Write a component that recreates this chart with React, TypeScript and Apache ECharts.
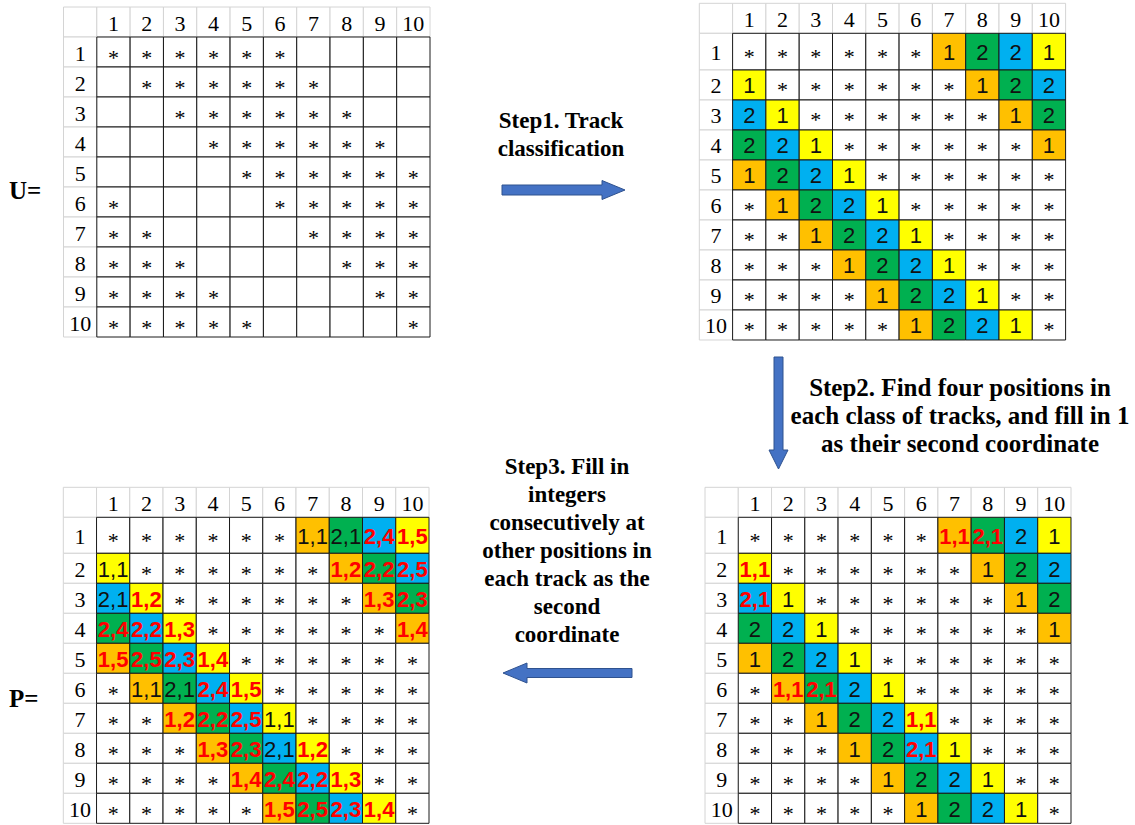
import React, { useEffect, useRef } from 'react';
import * as echarts from 'echarts';

// ---------- data ----------
const colLabels = ['1', '2', '3', '4', '5', '6', '7', '8', '9', '10'];
const rowLabels = ['1', '2', '3', '4', '5', '6', '7', '8', '9', '10'];

// U: '*' = known entry, '' = empty
const matrixU: string[][] = [
  ['*', '*', '*', '*', '*', '*', '', '', '', ''],
  ['', '*', '*', '*', '*', '*', '*', '', '', ''],
  ['', '', '*', '*', '*', '*', '*', '*', '', ''],
  ['', '', '', '*', '*', '*', '*', '*', '*', ''],
  ['', '', '', '', '*', '*', '*', '*', '*', '*'],
  ['*', '', '', '', '', '*', '*', '*', '*', '*'],
  ['*', '*', '', '', '', '', '*', '*', '*', '*'],
  ['*', '*', '*', '', '', '', '', '*', '*', '*'],
  ['*', '*', '*', '*', '', '', '', '', '*', '*'],
  ['*', '*', '*', '*', '*', '', '', '', '', '*'],
];

// track classes: O orange, G green, B blue, Y yellow, '' none
const trackClass: string[][] = [
  ['', '', '', '', '', '', 'O', 'G', 'B', 'Y'],
  ['Y', '', '', '', '', '', '', 'O', 'G', 'B'],
  ['B', 'Y', '', '', '', '', '', '', 'O', 'G'],
  ['G', 'B', 'Y', '', '', '', '', '', '', 'O'],
  ['O', 'G', 'B', 'Y', '', '', '', '', '', ''],
  ['', 'O', 'G', 'B', 'Y', '', '', '', '', ''],
  ['', '', 'O', 'G', 'B', 'Y', '', '', '', ''],
  ['', '', '', 'O', 'G', 'B', 'Y', '', '', ''],
  ['', '', '', '', 'O', 'G', 'B', 'Y', '', ''],
  ['', '', '', '', '', 'O', 'G', 'B', 'Y', ''],
];

// '!' prefix = red bold entry
const matrixTracks: string[][] = [
  ['*', '*', '*', '*', '*', '*', '1', '2', '2', '1'],
  ['1', '*', '*', '*', '*', '*', '*', '1', '2', '2'],
  ['2', '1', '*', '*', '*', '*', '*', '*', '1', '2'],
  ['2', '2', '1', '*', '*', '*', '*', '*', '*', '1'],
  ['1', '2', '2', '1', '*', '*', '*', '*', '*', '*'],
  ['*', '1', '2', '2', '1', '*', '*', '*', '*', '*'],
  ['*', '*', '1', '2', '2', '1', '*', '*', '*', '*'],
  ['*', '*', '*', '1', '2', '2', '1', '*', '*', '*'],
  ['*', '*', '*', '*', '1', '2', '2', '1', '*', '*'],
  ['*', '*', '*', '*', '*', '1', '2', '2', '1', '*'],
];

const matrixFirst: string[][] = [
  ['*', '*', '*', '*', '*', '*', '!1,1', '!2,1', '2', '1'],
  ['!1,1', '*', '*', '*', '*', '*', '*', '1', '2', '2'],
  ['!2,1', '1', '*', '*', '*', '*', '*', '*', '1', '2'],
  ['2', '2', '1', '*', '*', '*', '*', '*', '*', '1'],
  ['1', '2', '2', '1', '*', '*', '*', '*', '*', '*'],
  ['*', '!1,1', '!2,1', '2', '1', '*', '*', '*', '*', '*'],
  ['*', '*', '1', '2', '2', '!1,1', '*', '*', '*', '*'],
  ['*', '*', '*', '1', '2', '!2,1', '1', '*', '*', '*'],
  ['*', '*', '*', '*', '1', '2', '2', '1', '*', '*'],
  ['*', '*', '*', '*', '*', '1', '2', '2', '1', '*'],
];

const matrixP: string[][] = [
  ['*', '*', '*', '*', '*', '*', '1,1', '2,1', '!2,4', '!1,5'],
  ['1,1', '*', '*', '*', '*', '*', '*', '!1,2', '!2,2', '!2,5'],
  ['2,1', '!1,2', '*', '*', '*', '*', '*', '*', '!1,3', '!2,3'],
  ['!2,4', '!2,2', '!1,3', '*', '*', '*', '*', '*', '*', '!1,4'],
  ['!1,5', '!2,5', '!2,3', '!1,4', '*', '*', '*', '*', '*', '*'],
  ['*', '1,1', '2,1', '!2,4', '!1,5', '*', '*', '*', '*', '*'],
  ['*', '*', '!1,2', '!2,2', '!2,5', '1,1', '*', '*', '*', '*'],
  ['*', '*', '*', '!1,3', '!2,3', '2,1', '!1,2', '*', '*', '*'],
  ['*', '*', '*', '*', '!1,4', '!2,4', '!2,2', '!1,3', '*', '*'],
  ['*', '*', '*', '*', '*', '!1,5', '!2,5', '!2,3', '!1,4', '*'],
];

const step1Text = 'Step1. Track\nclassification';
const step2Text = 'Step2. Find four positions in\neach class of tracks, and fill in 1\nas their second coordinate';
const step3Text = 'Step3. Fill in\nintegers\nconsecutively at\nother positions in\neach track as the\nsecond\ncoordinate';

// ---------- styles / layout ----------
const FILL: Record<string, string> = {
  O: '#FFC000', G: '#00B050', B: '#00B0F0', Y: '#FFFF00', '': '#FFFFFF',
};
const HEAD_STROKE = '#D4D4D4';
const CELL_STROKE = '#1A1A1A';
const ARROW_FILL = '#4472C4';
const ARROW_STROKE = '#2F528F';

type Cell = { c: number; r: number; text: string; cls: string; head: boolean; red: boolean };

function buildCells(values: string[][], classes: string[][] | null): Cell[] {
  const cells: Cell[] = [];
  cells.push({ c: 0, r: 0, text: '', cls: '', head: true, red: false });
  colLabels.forEach((t, j) => cells.push({ c: j + 1, r: 0, text: t, cls: '', head: true, red: false }));
  rowLabels.forEach((t, i) => cells.push({ c: 0, r: i + 1, text: t, cls: '', head: true, red: false }));
  values.forEach((row, i) =>
    row.forEach((v, j) => {
      const red = v.startsWith('!');
      cells.push({
        c: j + 1,
        r: i + 1,
        text: red ? v.slice(1) : v,
        cls: classes ? classes[i][j] : '',
        head: false,
        red,
      });
    })
  );
  return cells;
}

const rowEdge = (r: number, f: number) => (r <= 1 ? r : r + f - 1);

function makeRender(cells: Cell[], f: number) {
  return (params: any, api: any) => {
    const cell = cells[params.dataIndex];
    const p0 = api.coord([cell.c, rowEdge(cell.r, f)]);
    const p1 = api.coord([cell.c + 1, rowEdge(cell.r + 1, f)]);
    const x = Math.min(p0[0], p1[0]);
    const y = Math.min(p0[1], p1[1]);
    const w = Math.abs(p1[0] - p0[0]);
    const h = Math.abs(p1[1] - p0[1]);
    const cx = x + w / 2;
    const cy = y + h / 2;
    const children: any[] = [
      {
        type: 'rect',
        shape: { x, y, width: w, height: h },
        style: { fill: FILL[cell.cls] || '#FFFFFF', stroke: cell.head ? HEAD_STROKE : CELL_STROKE, lineWidth: 1 },
      },
    ];
    if (cell.text) {
      let style: any;
      let ty = cy;
      if (cell.head) {
        style = { font: 'normal 22px "Liberation Serif", serif', fill: '#000' };
        ty = cy + 1;
      } else if (cell.text === '*') {
        style = { font: 'normal 22px "Liberation Serif", serif', fill: '#000' };
        ty = cy + 5;
      } else if (cell.red) {
        style = { font: 'bold 22px "Liberation Sans", sans-serif', fill: '#FF0000' };
        ty = cy + 1;
      } else {
        style = { font: 'normal 22px "Liberation Sans", sans-serif', fill: '#111' };
        ty = cy + 1;
      }
      children.push({
        type: 'text',
        x: cx,
        y: ty,
        style: {
          ...style,
          text: cell.text,
          textAlign: 'center',
          textVerticalAlign: 'middle',
          align: 'center',
          verticalAlign: 'middle',
        },
      });
    }
    return { type: 'group', children };
  };
}

const layouts = [
  { left: 63.5, top: 7, width: 366.5, f: 1, values: matrixU, classes: null },
  { left: 699.3, top: 3.3, width: 366.3, f: 1.223, values: matrixTracks, classes: trackClass },
  { left: 705, top: 487.3, width: 366, f: 1.2, values: matrixFirst, classes: trackClass },
  { left: 63.3, top: 487.3, width: 365.7, f: 1.2, values: matrixP, classes: trackClass },
];

function arrowRight(x0: number, x1: number, head: number, cy: number, sh: number, hh: number) {
  return [
    [x0, cy - sh / 2], [x1 - head, cy - sh / 2], [x1 - head, cy - hh / 2], [x1, cy],
    [x1 - head, cy + hh / 2], [x1 - head, cy + sh / 2], [x0, cy + sh / 2],
  ];
}

export default function App() {
  const ref = useRef<HTMLDivElement>(null);
  useEffect(() => {
    if (!ref.current) return;
    const chart = echarts.init(ref.current, undefined, { renderer: 'svg' });
    const grids: any[] = [];
    const xAxes: any[] = [];
    const yAxes: any[] = [];
    const series: any[] = [];
    layouts.forEach((L, k) => {
      const total = 11 + L.f - 1;
      grids.push({ left: L.left, top: L.top, width: L.width, height: 30 * total, containLabel: false });
      xAxes.push({ type: 'value', gridIndex: k, min: 0, max: 11, show: false });
      yAxes.push({ type: 'value', gridIndex: k, min: 0, max: total, inverse: true, show: false });
      const cells = buildCells(L.values, L.classes);
      series.push({
        type: 'custom',
        xAxisIndex: k,
        yAxisIndex: k,
        clip: false,
        silent: true,
        data: cells.map((c) => [c.c, c.r]),
        renderItem: makeRender(cells, L.f),
      });
    });

    const arrow1 = arrowRight(502, 625, 23, 190, 10, 19);
    const arrow3 = arrowRight(0, 129, 24, 0, 9, 20).map(([x, y]) => [632 - x, 673 + y]);
    const arrow2 = arrowRight(0, 112, 19, 0, 9, 19).map(([x, y]) => [778.5 + y, 357 + x]);

    const textStyle = (t: string, size: number) => ({
      text: t,
      font: `bold ${size}px "Liberation Serif", serif`,
      lineHeight: 28,
      fill: '#000',
      textAlign: 'center',
      textVerticalAlign: 'middle',
      align: 'center',
      verticalAlign: 'middle',
    });

    chart.setOption({
      animation: false,
      backgroundColor: '#FFFFFF',
      grid: grids,
      xAxis: xAxes,
      yAxis: yAxes,
      series,
      graphic: [
        { type: 'polygon', shape: { points: arrow1 }, style: { fill: ARROW_FILL, stroke: ARROW_STROKE, lineWidth: 1 } },
        { type: 'polygon', shape: { points: arrow2 }, style: { fill: ARROW_FILL, stroke: ARROW_STROKE, lineWidth: 1 } },
        { type: 'polygon', shape: { points: arrow3 }, style: { fill: ARROW_FILL, stroke: ARROW_STROKE, lineWidth: 1 } },
        { type: 'text', x: 561, y: 134, style: textStyle(step1Text, 23) },
        { type: 'text', x: 960, y: 415, style: textStyle(step2Text, 25) },
        { type: 'text', x: 567, y: 550, style: textStyle(step3Text, 23) },
        {
          type: 'text', x: 9, y: 190,
          style: { text: 'U=', font: 'bold 25px "Liberation Serif", serif', fill: '#000', textAlign: 'left', textVerticalAlign: 'middle', align: 'left', verticalAlign: 'middle' },
        },
        {
          type: 'text', x: 9, y: 698,
          style: { text: 'P=', font: 'bold 25px "Liberation Serif", serif', fill: '#000', textAlign: 'left', textVerticalAlign: 'middle', align: 'left', verticalAlign: 'middle' },
        },
      ],
    });
    return () => chart.dispose();
  }, []);
  return <div ref={ref} style={{ position: 'fixed', left: 0, top: 0, width: 1135, height: 825, background: '#fff' }} />;
}
